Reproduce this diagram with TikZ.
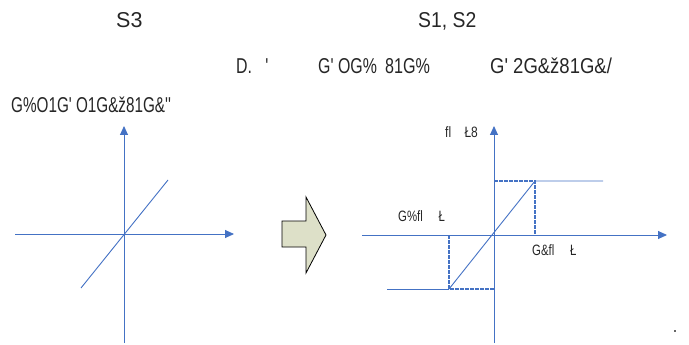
\documentclass[tikz,border=0pt]{standalone}
\usepackage{fontspec}
\usetikzlibrary{arrows.meta}
\newfontfamily\lab{Liberation Sans}
\definecolor{ax}{HTML}{4472C4}
\definecolor{arrfill}{HTML}{DDE0C8}
\tikzset{
  axis/.style={draw=ax, line width=0.9pt, -{Triangle[length=9pt,width=8pt]}},
  plain/.style={draw=ax, line width=0.9pt},
  dsh/.style={draw=ax, line width=1.2pt, dash pattern=on 3.5pt off 1.5pt},
  txt/.style={font=\lab\fontsize{21.5}{23}\selectfont, inner sep=0pt, anchor=base west, text=black!85},
  small/.style={font=\lab\fontsize{15}{17}\selectfont, inner sep=0pt, anchor=base west, text=black!85},
}
\begin{document}
\begin{tikzpicture}[x=1pt,y=-1pt]
\useasboundingbox (0,0) rectangle (689,345);
% texts
\node[txt] (t1) at (116,28) {S3};
\node[txt] (t2) at (418,28) {\scalebox{0.9}[1]{S1, S2}};
\node[txt] (t3) at (236,74) {\scalebox{0.74}[1]{D. \ \ '}};
\node[txt] (t4) at (318,74) {\scalebox{0.74}[1]{G' OG\%}};
\node[txt] (t5) at (385,74) {\scalebox{0.75}[1]{81G\%}};
\node[txt] (t6) at (490,74) {\scalebox{0.86}[1]{G' 2G\&ž81G\&/}};
\node[txt] (t7) at (11,113) {\scalebox{0.71}[1]{G\%O1G' O1G\&ž81G\&''}};
% left graph
\coordinate (lo) at (124,234);
\coordinate (lyb) at (124,343);
\coordinate (lyt) at (124,126);
\coordinate (lxl) at (15,234);
\coordinate (lxr) at (234,234);
\coordinate (ld1) at (81,288);
\coordinate (ld2) at (168,180);
\draw[axis] (lyb) -- (lyt);
\draw[axis] (lxl) -- (lxr);
\draw[plain] (ld1) -- (ld2);
% block arrow
\draw[black, line width=0.8pt, fill=arrfill] (282,221) -- (306,221) -- (306,197) -- (326,235) -- (306,273) -- (306,247) -- (282,247) -- cycle;
% right graph
\coordinate (ro) at (494,235);
\coordinate (ryb) at (494,343);
\coordinate (ryt) at (494,126);
\coordinate (rxl) at (362,235);
\coordinate (rxr) at (667,235);
\coordinate (rp) at (535,181);
\coordinate (rn) at (449,289);
\coordinate (rpe) at (603,181);
\coordinate (rne) at (387,289);
\coordinate (rpy) at (494,181);
\coordinate (rny) at (494,289);
\coordinate (rpx) at (535,235);
\coordinate (rnx) at (449,235);
\draw[axis] (ryb) -- (ryt);
\draw[axis] (rxl) -- (rxr);
\draw[plain] (rn) -- (rp) -- (rpe);
\draw[plain] (rne) -- (rn);
\draw[dsh] (rpy) -- (rp) -- (rpx);
\draw[dsh] (rnx) -- (rn) -- (rny);
\node[small] (l1) at (445,137) {\scalebox{0.8}[1]{fl\ \ \ \ Ł8}};
\node[small] (l2) at (398,221) {\scalebox{0.76}[1]{G\%fl\ \ \ \ \ Ł}};
\node[small] (l3) at (532,255) {\scalebox{0.76}[1]{G\&fl\ \ \ \ \ Ł}};
% dot
\fill[black!60] (674,330) rectangle (676,332);
\end{tikzpicture}
\end{document}
